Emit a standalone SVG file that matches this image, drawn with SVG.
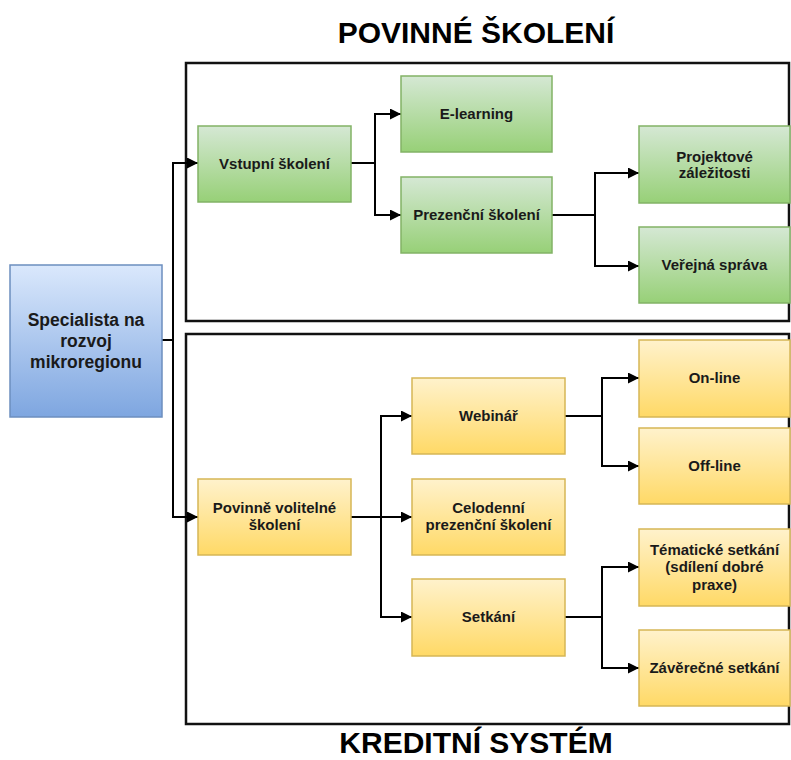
<svg xmlns="http://www.w3.org/2000/svg" width="791" height="760" viewBox="0 0 791 760">
<defs>
<linearGradient id="gGreen" x1="0" y1="0" x2="0" y2="1"><stop offset="0" stop-color="#d5e8d4"/><stop offset="1" stop-color="#97d077"/></linearGradient>
<linearGradient id="gYellow" x1="0" y1="0" x2="0" y2="1"><stop offset="0" stop-color="#fff2cc"/><stop offset="1" stop-color="#ffd966"/></linearGradient>
<linearGradient id="gBlue" x1="0" y1="0" x2="0" y2="1"><stop offset="0" stop-color="#dae8fc"/><stop offset="1" stop-color="#7ea6e0"/></linearGradient>
<marker id="arr" viewBox="0 0 10 10" refX="10" refY="5" markerWidth="11" markerHeight="11" markerUnits="userSpaceOnUse" orient="auto"><path d="M0,0 L10,5 L0,10 Z" fill="#000"/></marker>
</defs>
<style>
.frame{fill:none;stroke:#111;stroke-width:2.5}
.g{fill:url(#gGreen);stroke:#82b366;stroke-width:1.5}
.y{fill:url(#gYellow);stroke:#d6b656;stroke-width:1.5}
.b{fill:url(#gBlue);stroke:#6c8ebf;stroke-width:1.5}
.t{font-family:"Liberation Sans",Arial,Helvetica,sans-serif;font-weight:bold;font-size:15px;fill:#1a1a1a;text-anchor:middle}
.big{font-size:17.5px}
.title{font-family:"Liberation Sans",Arial,Helvetica,sans-serif;font-weight:bold;font-size:30px;fill:#000;text-anchor:middle}
.c{fill:none;stroke:#000;stroke-width:2;marker-end:url(#arr)}
</style>
<rect width="791" height="760" fill="#fff"/>
<text class="title" x="476" y="43">POVINNÉ ŠKOLENÍ</text>
<text class="title" x="476" y="753">KREDITNÍ SYSTÉM</text>
<g id="frame-povinne"><rect class="frame" x="186" y="63" width="603" height="258"/></g>
<g id="frame-kreditni"><rect class="frame" x="186" y="334" width="603" height="390"/></g>
<g id="connectors">
<path class="c" d="M162,340 H173 V163 H198"/>
<path class="c" d="M162,340 H173 V517 H198"/>
<path class="c" d="M351,163 H375 V114 H401"/>
<path class="c" d="M351,163 H375 V215 H401"/>
<path class="c" d="M552,215 H595 V173 H639"/>
<path class="c" d="M552,215 H595 V266 H639"/>
<path class="c" d="M351,517 H381 V416 H412"/>
<path class="c" d="M351,517 H412"/>
<path class="c" d="M351,517 H381 V617 H412"/>
<path class="c" d="M565,416 H602 V378 H639"/>
<path class="c" d="M565,416 H602 V466 H639"/>
<path class="c" d="M565,617 H602 V567 H639"/>
<path class="c" d="M565,617 H602 V668 H639"/>
</g>
<g id="specialista"><rect class="b" x="10" y="265" width="152" height="152"/>
<text class="t big" x="86" y="326">Specialista na</text><text class="t big" x="86" y="347">rozvoj</text><text class="t big" x="86" y="368">mikroregionu</text></g>
<g id="vstupni"><rect class="g" x="198" y="126" width="153" height="76"/><text class="t" x="274.5" y="169">Vstupní školení</text></g>
<g id="elearning"><rect class="g" x="401" y="76" width="151" height="76"/><text class="t" x="476.5" y="119">E-learning</text></g>
<g id="prezencni"><rect class="g" x="401" y="177" width="151" height="76"/><text class="t" x="476.5" y="220">Prezenční školení</text></g>
<g id="projektove"><rect class="g" x="639" y="126" width="151" height="77"/><text class="t" x="714.5" y="162">Projektové</text><text class="t" x="714.5" y="178">záležitosti</text></g>
<g id="verejna"><rect class="g" x="639" y="227" width="151" height="76"/><text class="t" x="714.5" y="270">Veřejná správa</text></g>
<g id="povinne-volitelne"><rect class="y" x="198" y="479" width="153" height="76"/><text class="t" x="274.5" y="513">Povinně volitelné</text><text class="t" x="274.5" y="530">školení</text></g>
<g id="webinar"><rect class="y" x="412" y="378" width="153" height="76"/><text class="t" x="488.5" y="421">Webinář</text></g>
<g id="celodenni"><rect class="y" x="412" y="479" width="153" height="76"/><text class="t" x="488.5" y="513">Celodenní</text><text class="t" x="488.5" y="530">prezenční školení</text></g>
<g id="setkani"><rect class="y" x="412" y="579" width="153" height="77"/><text class="t" x="488.5" y="622">Setkání</text></g>
<g id="online"><rect class="y" x="639" y="340" width="151" height="77"/><text class="t" x="714.5" y="383">On-line</text></g>
<g id="offline"><rect class="y" x="639" y="428" width="151" height="76"/><text class="t" x="714.5" y="471">Off-line</text></g>
<g id="tematicke"><rect class="y" x="639" y="529" width="151" height="77"/><text class="t" x="714.5" y="555">Tématické setkání</text><text class="t" x="714.5" y="572">(sdílení dobré</text><text class="t" x="714.5" y="590">praxe)</text></g>
<g id="zaverecne"><rect class="y" x="639" y="630" width="151" height="76"/><text class="t" x="714.5" y="673">Závěrečné setkání</text></g>
</svg>
